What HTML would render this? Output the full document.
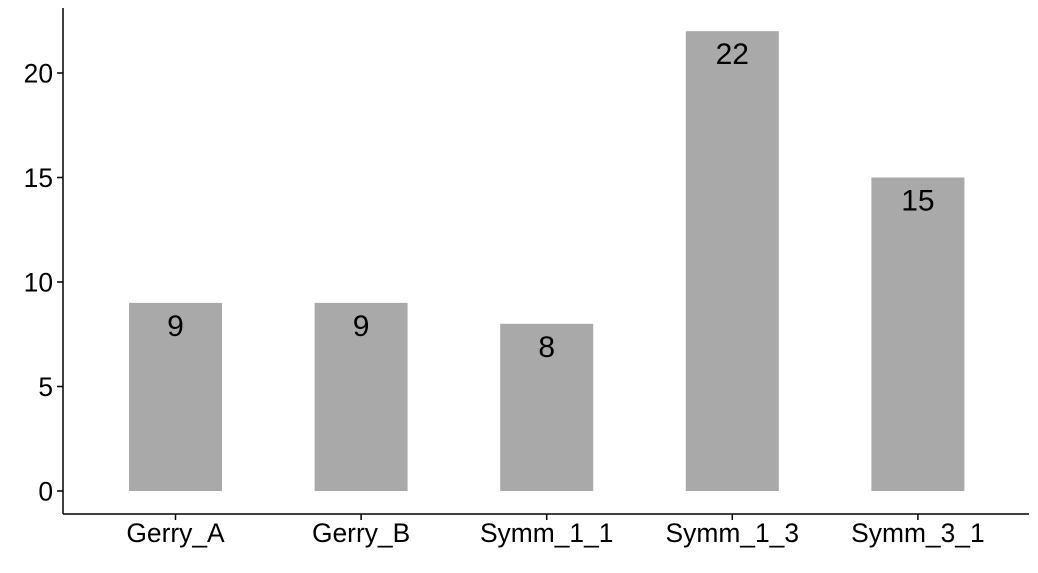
<!DOCTYPE html>
<html><head><meta charset="utf-8"><style>
html,body{margin:0;padding:0;background:#fff;}
svg{display:block;font-family:"Liberation Sans",Arial,sans-serif;}
</style></head><body>
<svg id="chart" width="1038" height="573"></svg>
<script>
const categories=["Gerry_A","Gerry_B","Symm_1_1","Symm_1_3","Symm_3_1"];
const values=[9,9,8,22,15];
const yTicks=[0,5,10,15,20];
const NS="http://www.w3.org/2000/svg";
const svg=document.getElementById('chart');
const y0=491, pxPerUnit=20.9;
function yScale(v){return y0-v*pxPerUnit;}
const x0=175.5, step=185.6, barW=93;
function xScale(i){return x0+i*step;}
function mk(tag,attrs,parent){const e=document.createElementNS(NS,tag);for(const k in attrs)e.setAttribute(k,attrs[k]);(parent||svg).appendChild(e);return e;}
values.forEach((v,i)=>{
  const r=mk('rect',{x:xScale(i)-barW/2,y:yScale(v),width:barW,height:yScale(0)-yScale(v),fill:'#a9a9a9'});
  
  
  const t=mk('text',{x:xScale(i),y:yScale(v)+33,'text-anchor':'middle','font-size':'30',fill:'#000'});
  t.textContent=v;
  
  
  const xl=mk('text',{x:xScale(i),y:542,'text-anchor':'middle','font-size':'26.4',fill:'#000'});
  xl.textContent=categories[i];
  
  
  const tk=mk('line',{x1:xScale(i),x2:xScale(i),y1:514,y2:520,stroke:'#000','stroke-width':1.5});
  
  
});
yTicks.forEach(v=>{
  const tk=mk('line',{x1:57,x2:63,y1:yScale(v),y2:yScale(v),stroke:'#000','stroke-width':1.5});
  
  
  const t=mk('text',{x:53,y:yScale(v)+9.5,'text-anchor':'end','font-size':'26.4',fill:'#000'});
  t.textContent=v;
  
  
});
const ya=mk('line',{x1:63,x2:63,y1:8,y2:514,stroke:'#000','stroke-width':1.5});


const xa=mk('line',{x1:63,x2:1029,y1:514,y2:514,stroke:'#000','stroke-width':1.5});


</script>
</body></html>
